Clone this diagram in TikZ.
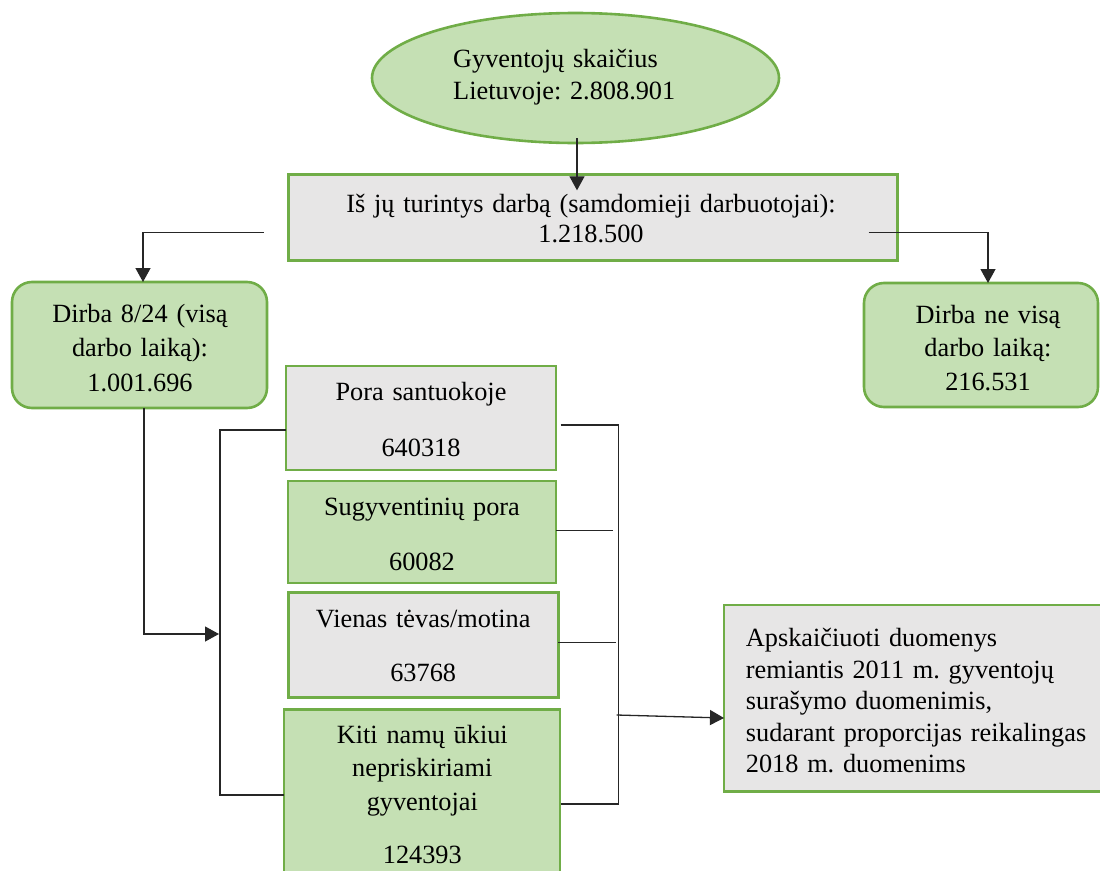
\documentclass[tikz,border=0pt]{standalone}
\usepackage{fontspec}
\setmainfont{Liberation Serif}
\frenchspacing
\usetikzlibrary{arrows.meta,shapes.geometric}
\definecolor{boxgreen}{HTML}{C5E0B4}
\definecolor{boxgray}{HTML}{E7E6E6}
\definecolor{edgegreen}{HTML}{70AD47}
\begin{document}
\begin{tikzpicture}[x=1pt,y=-1pt,
  panel/.style={draw=edgegreen,line width=2.6pt,inner sep=0pt,outer sep=0pt},
  greenpanel/.style={panel,fill=boxgreen},
  graypanel/.style={panel,fill=boxgray},
  roundpanel/.style={greenpanel,rounded corners=20pt},
  ctext/.style={inner sep=0pt,anchor=base,text width=640pt,align=center,
                font=\fontsize{26.3}{#1}\selectfont\frenchspacing},
  ctext/.default=34,
  ltext/.style={inner sep=0pt,anchor=base west,text width=380pt,align=left,
                font=\fontsize{26.3}{#1}\selectfont\frenchspacing},
  ltext/.default=31.5,
  link/.style={line width=1.3pt,draw=black!85},
  arrowlink/.style={link,-{Triangle[length=14pt,width=15pt]}},
]
\useasboundingbox (0,0) rectangle (1100,870);
\begin{scope}
\clip (0,0) rectangle (1100,870);

% total population
\node[ellipse,greenpanel,minimum width=407pt,minimum height=130pt] (pop) at (575.5,78) {};
\node[ltext=32] (popt) at (453,67) {Gyventojų skaičius\\Lietuvoje: 2.808.901};

% employed
\node[graypanel,rectangle,minimum width=609pt,minimum height=86pt] (work) at (593,217.3) {};
\node[ctext=30] (workt) at (591,212) {Iš jų turintys darbą (samdomieji darbuotojai):\\1.218.500};

% full time / part time
\node[roundpanel,minimum width=255pt,minimum height=126pt] (full) at (139.5,345) {};
\node[ctext=34.5] (fullt) at (140,322) {Dirba 8/24 (visą\\darbo laiką):\\1.001.696};
\node[roundpanel,minimum width=234pt,minimum height=124pt] (part) at (981,345) {};
\node[ctext=33.5] (partt) at (988,323) {Dirba ne visą\\darbo laiką:\\216.531};

% household types
\node[graypanel,minimum width=270pt,minimum height=104pt] (hh1) at (421,418) {};
\node[ctext=55.3] (hh1t) at (421,400.7) {Pora santuokoje\\640318};
\node[greenpanel,minimum width=268pt,minimum height=102pt] (hh2) at (422,531.8) {};
\node[ctext=55] (hh2t) at (422,515.7) {Sugyventinių pora\\60082};
\node[graypanel,minimum width=270pt,minimum height=105.4pt] (hh3) at (423.2,645) {};
\node[ctext=54] (hh3t) at (423.2,627.7) {Vienas tėvas/motina\\63768};
\node[greenpanel,minimum width=276pt,minimum height=180pt] (hh4) at (422,799.3) {};
\node[ctext=33.5] (hh4t) at (422.3,743) {Kiti namų ūkiui\\nepriskiriami\\gyventojai\\[19.8pt]124393};

% note
\node[graypanel,minimum width=380pt,minimum height=186.7pt] (note) at (914,698.3) {};
\node[ltext] (notet) at (745.7,646.7) {Apskaičiuoti duomenys\\remiantis 2011 m. gyventojų\\surašymo duomenimis,\\sudarant proporcijas reikalingas\\2018 m. duomenims};

% connectors
\draw[arrowlink] ([xshift=1.5pt,yshift=5pt]pop.south) -- ([xshift=-16pt,yshift=-16pt]work.north);

\coordinate (wl) at ([xshift=-25pt,yshift=-15.3pt]work.west);
\coordinate (wr) at ([xshift=-29pt,yshift=-15.3pt]work.east);
\draw[arrowlink] (wl) -| ([xshift=3.5pt]full.north);
\draw[arrowlink] (wr) -| ([xshift=7pt]part.north);

% left bracket into the household boxes
\coordinate (lb) at (219,634);
\draw[link] ([yshift=-12pt]hh1.west) -- ++(-66pt,0) |- ([yshift=4.3pt]hh4.west);
\draw[arrowlink] ([xshift=4.5pt]full.south) |- (lb);

% right bracket out of the household boxes
\coordinate (rb) at (618.3,715);
\draw[link] ([xshift=4.7pt,yshift=-7pt]hh1.east) -- ++(57.6pt,0) -- ++(0,-379pt) -- ([xshift=0.7pt,yshift=-4.7pt]hh4.east);
\draw[link] ([yshift=1pt]hh2.east) -- ++(57.3pt,0);
\draw[link] ([yshift=2.3pt]hh3.east) -- ++(57.7pt,0);
\draw[arrowlink] ([xshift=-1.6pt]rb) -- ([yshift=-19.7pt]note.west);
\end{scope}
\end{tikzpicture}
\end{document}
